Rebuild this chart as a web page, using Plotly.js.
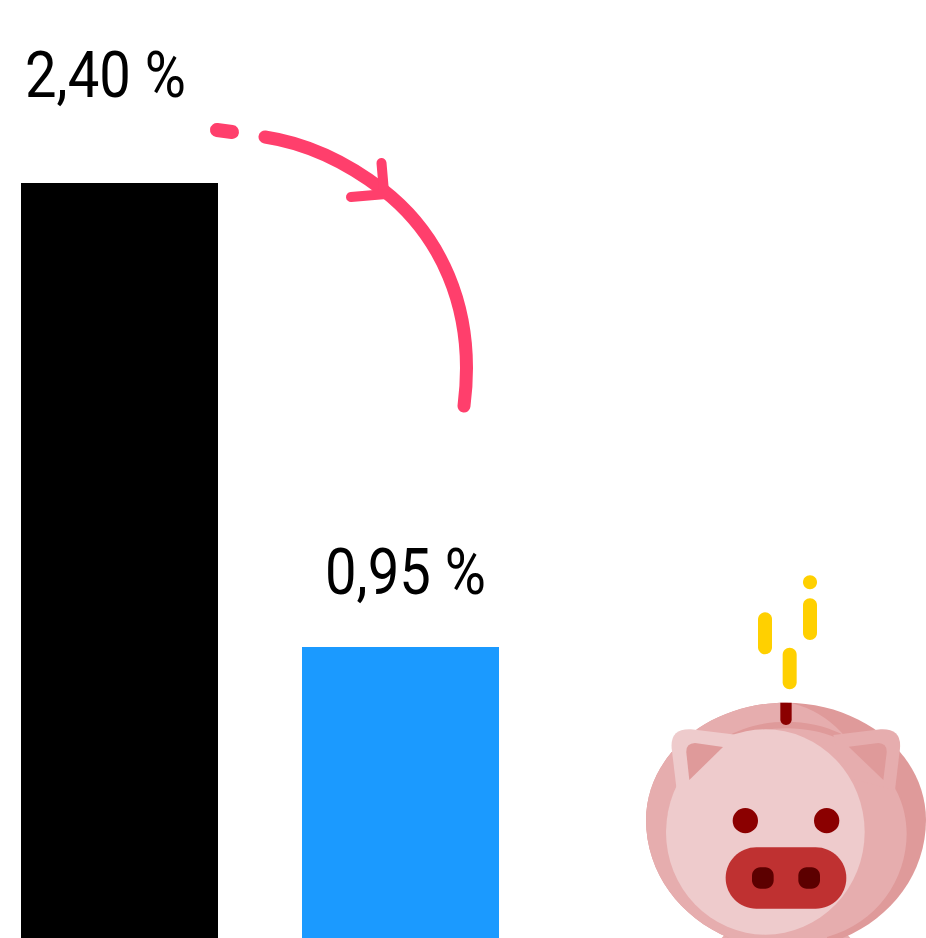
<!DOCTYPE html>
<html>
<head>
<meta charset="utf-8">
<script src="https://cdn.plot.ly/plotly-3.0.1.min.js"></script>
<style>
html,body{margin:0;padding:0;background:#fff;overflow:hidden}
.shapelayer path{stroke-linecap:round;stroke-linejoin:round}
.annotation-text{transform:scaleX(.865);transform-box:fill-box;transform-origin:center}
</style>
</head>
<body>
<div id="chart" style="width:926px;height:938px"></div>
<script>
const barPositions = [0, 1];
const barValues = [2.40, 0.95];
const barColors = ['#000000', '#1B9AFF'];
const barLabels = ['2,40 %', '0,95 %'];

const W = 926, H = 938;
const fx = x => x / W, fy = y => 1 - y / H;
const P = (x, y) => fx(x) + ' ' + fy(y);
// piggy-bank artwork is measured in a local 3x grid anchored at (630,560)
const zx = x => 630 + x / 3, zy = y => 560 + y / 3;
const Z = (x, y) => P(zx(x), zy(y));
const k=0.5523;

const shapes = [];
function pathShape(d, fill, stroke, width) {
  shapes.push({type:'path', xref:'paper', yref:'paper', path:d, layer:'above',
    fillcolor: fill || 'rgba(0,0,0,0)',
    line:{color: stroke || 'rgba(0,0,0,0)', width: width || 0}});
}
function ell(cx, cy, rx, ry, fill) {
  shapes.push({type:'circle', xref:'paper', yref:'paper', layer:'above',
    x0:fx(zx(cx-rx)), x1:fx(zx(cx+rx)), y0:fy(zy(cy-ry)), y1:fy(zy(cy+ry)),
    fillcolor:fill, line:{width:0}});
}
function rrect(x0, y0, x1, y1, r, fill) {
  const c = r * (1 - k);
  pathShape('M'+Z(x0+r,y0)+' L'+Z(x1-r,y0)+' C'+Z(x1-c,y0)+' '+Z(x1,y0+c)+' '+Z(x1,y0+r)+
    ' L'+Z(x1,y1-r)+' C'+Z(x1,y1-c)+' '+Z(x1-c,y1)+' '+Z(x1-r,y1)+
    ' L'+Z(x0+r,y1)+' C'+Z(x0+c,y1)+' '+Z(x0,y1-c)+' '+Z(x0,y1-r)+
    ' L'+Z(x0,y0+r)+' C'+Z(x0,y0+c)+' '+Z(x0+c,y0)+' '+Z(x0+r,y0)+' Z', fill);
}

const DARK='#DF9A9A', MID='#E6ADAE', PALE='#EECBCC', MAROON='#8B0000', SNOUT='#BF3131', NOSE='#5C0000', GOLD='#FFD000', PINK='#FF3F6C';

// arrow
pathShape('M'+P(217,130)+' L'+P(232,132), null, PINK, 14);
pathShape('M'+P(265,137)+' C'+P(305,143)+' '+P(345,161)+' '+P(383,190)+
          ' C'+P(437,232)+' '+P(477,305)+' '+P(464,406), null, PINK, 13);
pathShape('M'+P(381.5,163)+' L'+P(384,192), null, PINK, 10);
pathShape('M'+P(351,197)+' L'+P(386,194), null, PINK, 10);

// coins
rrect(384,157,426,283,21,GOLD);
rrect(458,263,500,388,21,GOLD);
rrect(519,115,561,240,21,GOLD);
rrect(519,46,561,88,21,GOLD);

// feet
pathShape('M'+Z(275,1134)+' L'+Z(288,1120)+' L'+Z(648,1120)+' L'+Z(661,1134)+' Z', MID);

// body: silhouette, upper half flatter than the lower half
const cyB = 780, ryT = 352, ryB = 387, rxB = 420, cxB = 468;
pathShape('M'+Z(cxB,cyB-ryT)+' C'+Z(cxB-rxB*k,cyB-ryT)+' '+Z(cxB-rxB,cyB-ryT*k)+' '+Z(cxB-rxB,cyB)+
  ' C'+Z(cxB-rxB,cyB+ryB*k)+' '+Z(cxB-rxB*k,cyB+ryB)+' '+Z(cxB,cyB+ryB)+
  ' C'+Z(cxB+rxB*k,cyB+ryB)+' '+Z(cxB+rxB,cyB+ryB*k)+' '+Z(cxB+rxB,cyB)+
  ' C'+Z(cxB+rxB,cyB-ryT*k)+' '+Z(cxB+rxB*k,cyB-ryT)+' '+Z(cxB,cyB-ryT)+' Z', DARK);
pathShape('M'+Z(cxB,cyB-ryT)+' C'+Z(cxB-rxB*k,cyB-ryT)+' '+Z(cxB-rxB,cyB-ryT*k)+' '+Z(cxB-rxB,cyB)+
  ' C'+Z(cxB-rxB,cyB+ryB*k)+' '+Z(cxB-rxB*k,cyB+ryB)+' '+Z(cxB,cyB+ryB)+
  ' L'+Z(600,1100)+' L'+Z(700,900)+' L'+Z(700,600)+
  ' L'+Z(635,518)+' Q'+Z(570,450)+' '+Z(485,430)+' Z', MID);
// band behind the head (upper half only)
pathShape('M'+Z(108,820)+' C'+Z(108,820-335*k)+' '+Z(470-362*k,485)+' '+Z(470,485)+
  ' C'+Z(470+362*k,485)+' '+Z(832,820-335*k)+' '+Z(832,820)+' Z', DARK);
// head
pathShape('M'+Z(110,820)+' C'+Z(110,820-315*k)+' '+Z(470-360*k,505)+' '+Z(470,505)+
  ' C'+Z(470+360*k,505)+' '+Z(830,820-315*k)+' '+Z(830,820)+
  ' C'+Z(830,960)+' '+Z(740,1090)+' '+Z(591,1131)+' L'+Z(591,1140)+' L'+Z(300,1140)+' Z', MID);
// coin slot
pathShape('M'+Z(451,428)+' L'+Z(485,428)+' L'+Z(485,478)+' C'+Z(485,488)+' '+Z(478,495)+' '+Z(468,495)+' C'+Z(458,495)+' '+Z(451,488)+' '+Z(451,478)+' Z', MAROON);

// ears
pathShape('M'+Z(610,525)+' L'+Z(752,508)+' Q'+Z(815,505)+' '+Z(810,565)+' L'+Z(795,690)+' L'+Z(640,650)+' Z', MID);
pathShape('M'+Z(325,525)+' L'+Z(183,508)+' Q'+Z(120,505)+' '+Z(125,565)+' L'+Z(140,690)+' L'+Z(300,650)+' Z', PALE);

// face
ell(406,816,298,308,PALE);
pathShape('M'+Z(656,560)+' L'+Z(745,549)+' Q'+Z(772,550)+' '+Z(770,578)+' L'+Z(760,660)+' Z', DARK);
pathShape('M'+Z(279,561)+' L'+Z(195,549)+' Q'+Z(167,550)+' '+Z(169,578)+' L'+Z(178,660)+' Z', DARK);
ell(346,782,38,38,MAROON);
ell(590,782,38,38,MAROON);
rrect(287,862,649,1046,92,SNOUT);
rrect(366,922,431,986,25,NOSE);
rrect(505,922,570,986,25,NOSE);

const labelFont = {family:'Roboto, sans-serif', size:65, color:'#000000'};
const annotations = [
  {text:barLabels[0], xref:'paper', yref:'paper', x:fx(105.5), y:fy(75), xanchor:'center', yanchor:'middle', showarrow:false, font:labelFont},
  {text:barLabels[1], xref:'paper', yref:'paper', x:fx(405.5), y:fy(572), xanchor:'center', yanchor:'middle', showarrow:false, font:labelFont}
];

const trace = {type:'bar', x:barPositions, y:barValues, width:197/281,
  marker:{color:barColors, line:{width:0}}, hoverinfo:'skip'};

const layout = {
  width:W, height:H, margin:{l:0,r:0,t:0,b:0},
  paper_bgcolor:'#ffffff', plot_bgcolor:'#ffffff', showlegend:false,
  xaxis:{range:[-119.5/281, (W-119.5)/281], visible:false, fixedrange:true},
  yaxis:{range:[13/320, 951/320], visible:false, fixedrange:true},
  shapes, annotations
};
Plotly.newPlot('chart', [trace], layout, {displayModeBar:false, staticPlot:true});
</script>
</body>
</html>
